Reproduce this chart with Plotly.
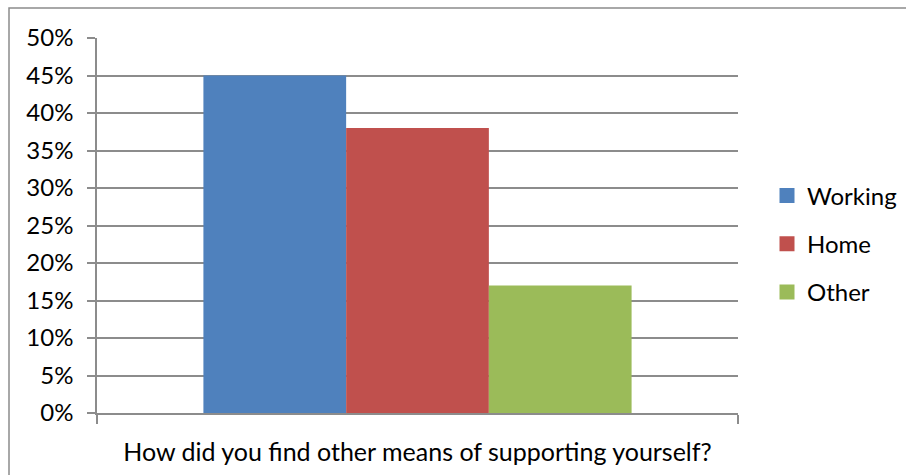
import plotly.graph_objects as go

# Survey question and response shares
question = ["How did you find other means of supporting yourself?"]
series_names = ["Working", "Home", "Other"]
series_values = [0.45, 0.38, 0.17]
series_colors = ["#4F81BD", "#C0504D", "#9BBB59"]
y_ticks = [0, 0.05, 0.10, 0.15, 0.20, 0.25, 0.30, 0.35, 0.40, 0.45, 0.50]
y_tick_labels = ["0%", "5%", "10%", "15%", "20%", "25%", "30%", "35%", "40%", "45%", "50%"]

FONT = "Lato"
GRID = "#8C8C8C"

W, H = 906, 475
L, T, B = 97, 38, 62
PLOT_RIGHT = 738
paper_w = W - L
paper_h = H - T - B

fig = go.Figure()
for name, val, col in zip(series_names, series_values, series_colors):
    fig.add_trace(go.Bar(
        x=question, y=[val], name=name, legendgroup=name, showlegend=False,
        marker=dict(color=col, line=dict(width=0)),
    ))
    # legend key drawn as a plain square swatch
    fig.add_trace(go.Scatter(
        x=[None], y=[None], mode="markers", name=name, legendgroup=name,
        marker=dict(symbol="square", size=15, color=col),
    ))

fig.update_layout(
    width=W, height=H,
    margin=dict(l=L, r=0, t=T, b=B),
    paper_bgcolor="white", plot_bgcolor="white",
    barmode="group", bargap=0.332, bargroupgap=0,
    font=dict(family=FONT, size=24, color="black"),
    showlegend=True,
    legend=dict(
        x=(767 - L) / paper_w, xanchor="left",
        y=(413 - 244) / paper_h, yanchor="middle",
        traceorder="grouped", tracegroupgap=14,
        font=dict(family=FONT, size=24, color="black"),
        itemwidth=30, bgcolor="rgba(0,0,0,0)",
    ),
    xaxis=dict(
        domain=[0, (PLOT_RIGHT - L) / paper_w],
        type="category", showgrid=False, showline=True,
        linecolor=GRID, linewidth=1.5,
        ticks="outside", tickson="boundaries", ticklen=9,
        tickcolor=GRID, tickwidth=1.5,
        tickfont=dict(family=FONT, size=25, color="black"),
        ticklabelstandoff=16,
    ),
    yaxis=dict(
        range=[0, 0.5], tickvals=y_ticks, ticktext=y_tick_labels,
        showgrid=True, gridcolor=GRID, gridwidth=1.5,
        showline=True, linecolor=GRID, linewidth=1.5,
        ticks="outside", ticklen=8, tickcolor=GRID, tickwidth=1.5,
        tickfont=dict(family=FONT, size=24, color="black"),
        zeroline=False, ticklabelstandoff=9,
    ),
    shapes=[dict(
        type="rect", xref="paper", yref="paper",
        x0=(9 - L) / paper_w, x1=(912 - L) / paper_w,
        y0=(413 - 480) / paper_h, y1=(413 - 8) / paper_h,
        line=dict(color="#8C8C8C", width=1.5), fillcolor="rgba(0,0,0,0)",
        layer="below",
    )],
)

fig.write_html("out.html")
